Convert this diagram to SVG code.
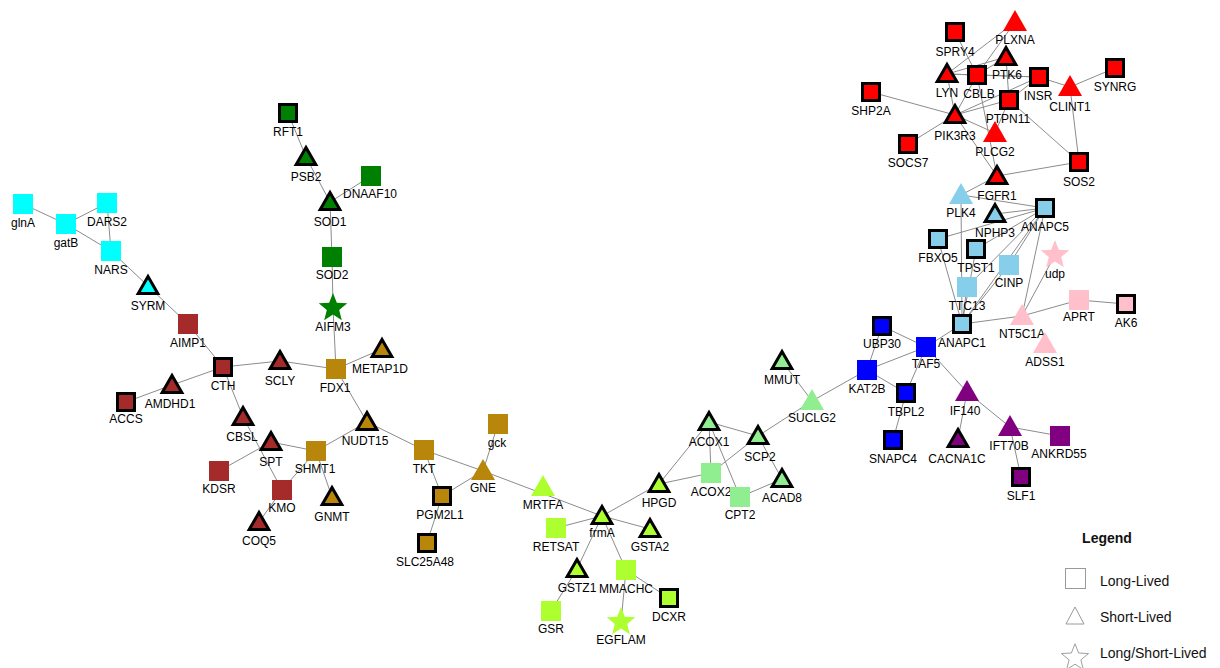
<svg xmlns="http://www.w3.org/2000/svg" xmlns:xlink="http://www.w3.org/1999/xlink" width="1220" height="668" viewBox="0 0 1220 668">
<style>
.e line{stroke:#8c8c8c;stroke-width:1}
text{font-family:"Liberation Sans",Arial,sans-serif;font-size:12px;text-anchor:middle;fill:#000}
.b{stroke:#000;stroke-width:3;stroke-linejoin:miter}
.red{fill:#ff0000}.sky{fill:#87ceeb}.pink{fill:#ffc0cb}.blue{fill:#0000ff}.pur{fill:#800080}
.lg{fill:#90ee90}.gy{fill:#adff2f}.grn{fill:#008000}.brn{fill:#a52a2a}.gold{fill:#b8860b}.cyan{fill:#00ffff}
.lgd text{text-anchor:start;font-size:14px;fill:#111}
.lgd .sh{fill:#fff;stroke:#9a9a9a;stroke-width:1}
</style>
<defs>
<rect id="s" x="-10" y="-10" width="20" height="20"/>
<rect id="sb" x="-8.5" y="-8.5" width="17" height="17"/>
<polygon id="t" points="0,-12 12,9 -12,9"/>
<polygon id="tb" points="0,-9.5 9.8,7.5 -9.8,7.5"/>
<path id="st" d="M0,-15 L3.82,-5.26 L14.27,-4.64 L6.18,2.01 L8.82,12.14 L0,6.5 L-8.82,12.14 L-6.18,2.01 L-14.27,-4.64 L-3.82,-5.26 Z"/>
</defs>
<rect width="1220" height="668" fill="#fff"/>
<g id="connectors" class="e">
<line x1="23" y1="204" x2="66" y2="224"/>
<line x1="66" y1="224" x2="107" y2="203"/>
<line x1="66" y1="224" x2="111" y2="251"/>
<line x1="107" y1="203" x2="111" y2="251"/>
<line x1="111" y1="251" x2="148" y2="286"/>
<line x1="148" y1="286" x2="188" y2="324"/>
<line x1="188" y1="324" x2="223" y2="367"/>
<line x1="223" y1="367" x2="172" y2="385"/>
<line x1="172" y1="385" x2="126" y2="402"/>
<line x1="223" y1="367" x2="280" y2="361"/>
<line x1="280" y1="361" x2="336" y2="369"/>
<line x1="223" y1="367" x2="243" y2="417"/>
<line x1="243" y1="417" x2="282" y2="490"/>
<line x1="271" y1="442" x2="219" y2="471"/>
<line x1="271" y1="442" x2="316" y2="451"/>
<line x1="282" y1="490" x2="259" y2="522"/>
<line x1="282" y1="490" x2="316" y2="451"/>
<line x1="316" y1="451" x2="332" y2="497"/>
<line x1="316" y1="451" x2="367" y2="422"/>
<line x1="367" y1="422" x2="336" y2="369"/>
<line x1="336" y1="369" x2="382" y2="349"/>
<line x1="336" y1="369" x2="333" y2="308"/>
<line x1="367" y1="422" x2="424" y2="450"/>
<line x1="424" y1="450" x2="483" y2="471"/>
<line x1="483" y1="471" x2="602" y2="516"/>
<line x1="424" y1="450" x2="442" y2="496"/>
<line x1="442" y1="496" x2="483" y2="471"/>
<line x1="483" y1="471" x2="498" y2="424"/>
<line x1="442" y1="496" x2="427" y2="543"/>
<line x1="288" y1="113" x2="306" y2="157"/>
<line x1="306" y1="157" x2="330" y2="202"/>
<line x1="330" y1="202" x2="371" y2="176"/>
<line x1="330" y1="202" x2="332" y2="257"/>
<line x1="332" y1="257" x2="333" y2="308"/>
<line x1="602" y1="516" x2="556" y2="528"/>
<line x1="602" y1="516" x2="650" y2="529"/>
<line x1="602" y1="516" x2="577" y2="569"/>
<line x1="602" y1="516" x2="626" y2="570"/>
<line x1="602" y1="516" x2="659" y2="484"/>
<line x1="577" y1="569" x2="551" y2="611"/>
<line x1="626" y1="570" x2="621" y2="622"/>
<line x1="626" y1="570" x2="669" y2="598"/>
<line x1="659" y1="484" x2="709" y2="422"/>
<line x1="659" y1="484" x2="711" y2="473"/>
<line x1="709" y1="422" x2="711" y2="473"/>
<line x1="709" y1="422" x2="758" y2="436"/>
<line x1="709" y1="422" x2="740" y2="497"/>
<line x1="711" y1="473" x2="758" y2="436"/>
<line x1="758" y1="436" x2="782" y2="479"/>
<line x1="782" y1="479" x2="740" y2="497"/>
<line x1="758" y1="436" x2="812" y2="401"/>
<line x1="812" y1="401" x2="782" y2="361"/>
<line x1="812" y1="401" x2="867" y2="370"/>
<line x1="867" y1="370" x2="882" y2="326"/>
<line x1="867" y1="370" x2="926" y2="347"/>
<line x1="867" y1="370" x2="906" y2="393"/>
<line x1="882" y1="326" x2="926" y2="347"/>
<line x1="926" y1="347" x2="962" y2="324"/>
<line x1="926" y1="347" x2="906" y2="393"/>
<line x1="906" y1="393" x2="893" y2="440"/>
<line x1="926" y1="347" x2="967" y2="392"/>
<line x1="967" y1="392" x2="1010" y2="427"/>
<line x1="967" y1="392" x2="958" y2="439"/>
<line x1="1010" y1="427" x2="1060" y2="436"/>
<line x1="1010" y1="427" x2="1021" y2="477"/>
<line x1="962" y1="324" x2="1022" y2="316"/>
<line x1="1022" y1="316" x2="1079" y2="300"/>
<line x1="1079" y1="300" x2="1126" y2="304"/>
<line x1="1022" y1="316" x2="1055" y2="255"/>
<line x1="1022" y1="316" x2="1045" y2="208"/>
<line x1="962" y1="324" x2="1045" y2="208"/>
<line x1="962" y1="324" x2="967" y2="287"/>
<line x1="962" y1="324" x2="938" y2="239"/>
<line x1="962" y1="324" x2="961" y2="195"/>
<line x1="962" y1="324" x2="1009" y2="265"/>
<line x1="962" y1="324" x2="976" y2="249"/>
<line x1="1045" y1="208" x2="938" y2="239"/>
<line x1="1045" y1="208" x2="995" y2="214"/>
<line x1="1045" y1="208" x2="961" y2="195"/>
<line x1="1045" y1="208" x2="976" y2="249"/>
<line x1="1045" y1="208" x2="967" y2="287"/>
<line x1="1045" y1="208" x2="1009" y2="265"/>
<line x1="997" y1="176" x2="961" y2="195"/>
<line x1="1015" y1="22" x2="947" y2="74"/>
<line x1="1015" y1="22" x2="977" y2="75"/>
<line x1="955" y1="32" x2="977" y2="75"/>
<line x1="1006" y1="57" x2="947" y2="74"/>
<line x1="1006" y1="57" x2="977" y2="75"/>
<line x1="1006" y1="57" x2="1009" y2="100"/>
<line x1="947" y1="74" x2="977" y2="75"/>
<line x1="947" y1="74" x2="1039" y2="77"/>
<line x1="977" y1="75" x2="1039" y2="77"/>
<line x1="947" y1="74" x2="955" y2="115"/>
<line x1="977" y1="75" x2="955" y2="115"/>
<line x1="1039" y1="77" x2="1070" y2="87"/>
<line x1="1070" y1="87" x2="1115" y2="68"/>
<line x1="1070" y1="87" x2="1079" y2="162"/>
<line x1="1009" y1="100" x2="1079" y2="162"/>
<line x1="1039" y1="77" x2="1009" y2="100"/>
<line x1="871" y1="92" x2="955" y2="115"/>
<line x1="908" y1="144" x2="955" y2="115"/>
<line x1="955" y1="115" x2="1039" y2="77"/>
<line x1="955" y1="115" x2="1009" y2="100"/>
<line x1="955" y1="115" x2="995" y2="133"/>
<line x1="955" y1="115" x2="997" y2="176"/>
<line x1="1009" y1="100" x2="995" y2="133"/>
<line x1="977" y1="75" x2="997" y2="176"/>
<line x1="997" y1="176" x2="1079" y2="162"/>
</g>
<g id="n-SPRY4"><use href="#sb" x="955" y="32" class="red b"/><text x="955" y="56">SPRY4</text></g>
<g id="n-PLXNA"><use href="#t" x="1015" y="22" class="red"/><text x="1015" y="44">PLXNA</text></g>
<g id="n-PTK6"><use href="#tb" x="1006" y="57" class="red b"/><text x="1007" y="79">PTK6</text></g>
<g id="n-LYN"><use href="#tb" x="947" y="74" class="red b"/><text x="947" y="97">LYN</text></g>
<g id="n-CBLB"><use href="#sb" x="977" y="75" class="red b"/><text x="979" y="98">CBLB</text></g>
<g id="n-INSR"><use href="#sb" x="1039" y="77" class="red b"/><text x="1038" y="100">INSR</text></g>
<g id="n-CLINT1"><use href="#t" x="1070" y="87" class="red"/><text x="1070" y="111">CLINT1</text></g>
<g id="n-SYNRG"><use href="#sb" x="1115" y="68" class="red b"/><text x="1115" y="91">SYNRG</text></g>
<g id="n-SHP2A"><use href="#sb" x="871" y="92" class="red b"/><text x="871" y="115">SHP2A</text></g>
<g id="n-PTPN11"><use href="#sb" x="1009" y="100" class="red b"/><text x="1008" y="123">PTPN11</text></g>
<g id="n-PIK3R3"><use href="#tb" x="955" y="115" class="red b"/><text x="955" y="140">PIK3R3</text></g>
<g id="n-PLCG2"><use href="#t" x="995" y="133" class="red"/><text x="995" y="156">PLCG2</text></g>
<g id="n-SOCS7"><use href="#sb" x="908" y="144" class="red b"/><text x="908" y="167">SOCS7</text></g>
<g id="n-SOS2"><use href="#sb" x="1079" y="162" class="red b"/><text x="1079" y="186">SOS2</text></g>
<g id="n-FGFR1"><use href="#tb" x="997" y="176" class="red b"/><text x="997" y="200">FGFR1</text></g>
<g id="n-PLK4"><use href="#t" x="961" y="195" class="sky"/><text x="961" y="217">PLK4</text></g>
<g id="n-NPHP3"><use href="#tb" x="995" y="214" class="sky b"/><text x="995" y="237">NPHP3</text></g>
<g id="n-ANAPC5"><use href="#sb" x="1045" y="208" class="sky b"/><text x="1045" y="231">ANAPC5</text></g>
<g id="n-FBXO5"><use href="#sb" x="938" y="239" class="sky b"/><text x="938" y="262">FBXO5</text></g>
<g id="n-TPST1"><use href="#sb" x="976" y="249" class="sky b"/><text x="976" y="272">TPST1</text></g>
<g id="n-CINP"><use href="#s" x="1009" y="265" class="sky"/><text x="1009" y="287">CINP</text></g>
<g id="n-udp"><use href="#st" x="1055" y="255" class="pink"/><text x="1055" y="278">udp</text></g>
<g id="n-TTC13"><use href="#s" x="967" y="287" class="sky"/><text x="967" y="310">TTC13</text></g>
<g id="n-ANAPC1"><use href="#sb" x="962" y="324" class="sky b"/><text x="962" y="347">ANAPC1</text></g>
<g id="n-APRT"><use href="#s" x="1079" y="300" class="pink"/><text x="1079" y="321">APRT</text></g>
<g id="n-AK6"><use href="#sb" x="1126" y="304" class="pink b"/><text x="1126" y="327">AK6</text></g>
<g id="n-NT5C1A"><use href="#t" x="1022" y="316" class="pink"/><text x="1022" y="338">NT5C1A</text></g>
<g id="n-ADSS1"><use href="#t" x="1045" y="344" class="pink"/><text x="1045" y="366">ADSS1</text></g>
<g id="n-UBP30"><use href="#sb" x="882" y="326" class="blue b"/><text x="882" y="348">UBP30</text></g>
<g id="n-TAF5"><use href="#s" x="926" y="347" class="blue"/><text x="926" y="368">TAF5</text></g>
<g id="n-KAT2B"><use href="#s" x="867" y="370" class="blue"/><text x="867" y="393">KAT2B</text></g>
<g id="n-TBPL2"><use href="#sb" x="906" y="393" class="blue b"/><text x="906" y="416">TBPL2</text></g>
<g id="n-SNAPC4"><use href="#sb" x="893" y="440" class="blue b"/><text x="893" y="463">SNAPC4</text></g>
<g id="n-IF140"><use href="#t" x="967" y="392" class="pur"/><text x="965" y="415">IF140</text></g>
<g id="n-CACNA1C"><use href="#tb" x="958" y="439" class="pur b"/><text x="957" y="463">CACNA1C</text></g>
<g id="n-IFT70B"><use href="#t" x="1010" y="427" class="pur"/><text x="1009" y="450">IFT70B</text></g>
<g id="n-ANKRD55"><use href="#s" x="1060" y="436" class="pur"/><text x="1059" y="458">ANKRD55</text></g>
<g id="n-SLF1"><use href="#sb" x="1021" y="477" class="pur b"/><text x="1021" y="500">SLF1</text></g>
<g id="n-MMUT"><use href="#tb" x="782" y="361" class="lg b"/><text x="782" y="384">MMUT</text></g>
<g id="n-SUCLG2"><use href="#t" x="812" y="401" class="lg"/><text x="812" y="422">SUCLG2</text></g>
<g id="n-SCP2"><use href="#tb" x="758" y="436" class="lg b"/><text x="760" y="461">SCP2</text></g>
<g id="n-ACOX1"><use href="#tb" x="709" y="422" class="lg b"/><text x="709" y="446">ACOX1</text></g>
<g id="n-ACOX2"><use href="#s" x="711" y="473" class="lg"/><text x="711" y="496">ACOX2</text></g>
<g id="n-CPT2"><use href="#s" x="740" y="497" class="lg"/><text x="740" y="519">CPT2</text></g>
<g id="n-ACAD8"><use href="#tb" x="782" y="479" class="lg b"/><text x="782" y="502">ACAD8</text></g>
<g id="n-HPGD"><use href="#tb" x="659" y="484" class="gy b"/><text x="659" y="507">HPGD</text></g>
<g id="n-MRTFA"><use href="#t" x="543" y="487" class="gy"/><text x="543" y="509">MRTFA</text></g>
<g id="n-frmA"><use href="#tb" x="602" y="516" class="gy b"/><text x="602" y="537">frmA</text></g>
<g id="n-RETSAT"><use href="#s" x="556" y="528" class="gy"/><text x="556" y="551">RETSAT</text></g>
<g id="n-GSTA2"><use href="#tb" x="650" y="529" class="gy b"/><text x="650" y="551">GSTA2</text></g>
<g id="n-GSTZ1"><use href="#tb" x="577" y="569" class="gy b"/><text x="577" y="592">GSTZ1</text></g>
<g id="n-MMACHC"><use href="#s" x="626" y="570" class="gy"/><text x="626" y="593">MMACHC</text></g>
<g id="n-DCXR"><use href="#sb" x="669" y="598" class="gy b"/><text x="669" y="621">DCXR</text></g>
<g id="n-GSR"><use href="#s" x="551" y="611" class="gy"/><text x="551" y="633">GSR</text></g>
<g id="n-EGFLAM"><use href="#st" x="621" y="622" class="gy"/><text x="621" y="644">EGFLAM</text></g>
<g id="n-glnA"><use href="#s" x="23" y="204" class="cyan"/><text x="23" y="227">glnA</text></g>
<g id="n-gatB"><use href="#s" x="66" y="224" class="cyan"/><text x="66" y="247">gatB</text></g>
<g id="n-DARS2"><use href="#s" x="107" y="203" class="cyan"/><text x="107" y="226">DARS2</text></g>
<g id="n-NARS"><use href="#s" x="111" y="251" class="cyan"/><text x="111" y="274">NARS</text></g>
<g id="n-SYRM"><use href="#tb" x="148" y="286" class="cyan b"/><text x="148" y="310">SYRM</text></g>
<g id="n-RFT1"><use href="#sb" x="288" y="113" class="grn b"/><text x="288" y="136">RFT1</text></g>
<g id="n-PSB2"><use href="#tb" x="306" y="157" class="grn b"/><text x="306" y="181">PSB2</text></g>
<g id="n-DNAAF10"><use href="#s" x="371" y="176" class="grn"/><text x="370" y="198">DNAAF10</text></g>
<g id="n-SOD1"><use href="#tb" x="330" y="202" class="grn b"/><text x="330" y="226">SOD1</text></g>
<g id="n-SOD2"><use href="#s" x="332" y="257" class="grn"/><text x="332" y="279">SOD2</text></g>
<g id="n-AIFM3"><use href="#st" x="333" y="308" class="grn"/><text x="333" y="331">AIFM3</text></g>
<g id="n-AIMP1"><use href="#s" x="188" y="324" class="brn"/><text x="188" y="347">AIMP1</text></g>
<g id="n-CTH"><use href="#sb" x="223" y="367" class="brn b"/><text x="223" y="390">CTH</text></g>
<g id="n-SCLY"><use href="#tb" x="280" y="361" class="brn b"/><text x="280" y="385">SCLY</text></g>
<g id="n-AMDHD1"><use href="#tb" x="172" y="385" class="brn b"/><text x="170" y="408">AMDHD1</text></g>
<g id="n-ACCS"><use href="#sb" x="126" y="402" class="brn b"/><text x="126" y="423">ACCS</text></g>
<g id="n-CBSL"><use href="#tb" x="243" y="417" class="brn b"/><text x="242" y="441">CBSL</text></g>
<g id="n-SPT"><use href="#tb" x="271" y="442" class="brn b"/><text x="271" y="466">SPT</text></g>
<g id="n-KDSR"><use href="#s" x="219" y="471" class="brn"/><text x="219" y="493">KDSR</text></g>
<g id="n-KMO"><use href="#s" x="282" y="490" class="brn"/><text x="282" y="512">KMO</text></g>
<g id="n-COQ5"><use href="#tb" x="259" y="522" class="brn b"/><text x="259" y="545">COQ5</text></g>
<g id="n-FDX1"><use href="#s" x="336" y="369" class="gold"/><text x="335" y="392">FDX1</text></g>
<g id="n-METAP1D"><use href="#tb" x="382" y="349" class="gold b"/><text x="380" y="373">METAP1D</text></g>
<g id="n-NUDT15"><use href="#tb" x="367" y="422" class="gold b"/><text x="365" y="445">NUDT15</text></g>
<g id="n-SHMT1"><use href="#s" x="316" y="451" class="gold"/><text x="315" y="473">SHMT1</text></g>
<g id="n-GNMT"><use href="#tb" x="332" y="497" class="gold b"/><text x="332" y="521">GNMT</text></g>
<g id="n-TKT"><use href="#s" x="424" y="450" class="gold"/><text x="424" y="473">TKT</text></g>
<g id="n-gck"><use href="#s" x="498" y="424" class="gold"/><text x="497" y="447">gck</text></g>
<g id="n-GNE"><use href="#t" x="483" y="471" class="gold"/><text x="483" y="492">GNE</text></g>
<g id="n-PGM2L1"><use href="#sb" x="442" y="496" class="gold b"/><text x="440" y="519">PGM2L1</text></g>
<g id="n-SLC25A48"><use href="#sb" x="427" y="543" class="gold b"/><text x="425" y="566">SLC25A48</text></g>
<g id="legend" class="lgd">
<text x="1107" y="543" style="font-weight:bold;text-anchor:middle">Legend</text>
<rect class="sh" x="1065.5" y="568.5" width="20" height="20"/>
<text x="1100" y="586">Long-Lived</text>
<polygon class="sh" points="1075,607 1066,624 1084,624"/>
<text x="1100" y="622">Short-Lived</text>
<path class="sh" transform="translate(1075,658) scale(0.95)" d="M0,-15 L3.82,-5.26 L14.27,-4.64 L6.18,2.01 L8.82,12.14 L0,6.5 L-8.82,12.14 L-6.18,2.01 L-14.27,-4.64 L-3.82,-5.26 Z"/>
<text x="1100" y="658">Long/Short-Lived</text>
</g>
</svg>
